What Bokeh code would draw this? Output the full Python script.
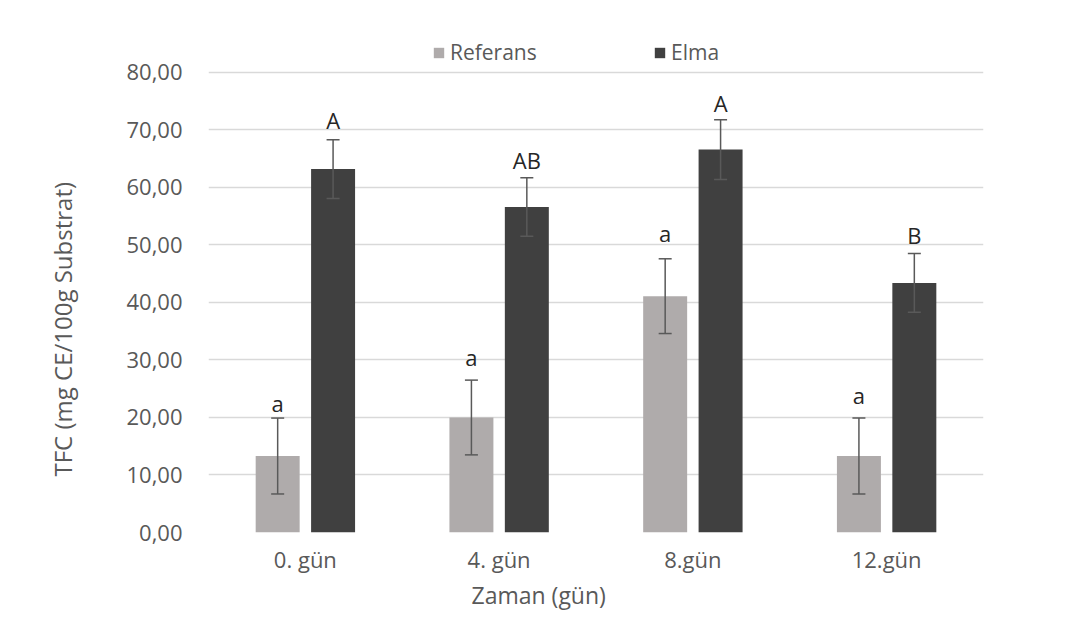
from bokeh.plotting import figure
from bokeh.models import (ColumnDataSource, FactorRange, Range1d, FixedTicker,
                          CustomJSTickFormatter, Whisker, TeeHead, LabelSet, Title,
                          Legend, LegendItem)
from bokeh.transform import dodge
from bokeh.core.properties import value
from bokeh.embed import file_html
from bokeh.resources import INLINE

# ---------------- data ----------------
days = ["0. gün", "4. gün", "8.gün", "12.gün"]
series_names = ["Referans", "Elma"]
ref_vals = [13.3, 20.0, 41.1, 13.3]
ref_err = [6.6, 6.5, 6.5, 6.6]
ref_letters = ["a", "a", "a", "a"]
elma_vals = [63.2, 56.6, 66.6, 43.4]
elma_err = [5.1, 5.1, 5.2, 5.1]
elma_letters = ["A", "AB", "A", "B"]
y_ticks = [0, 10, 20, 30, 40, 50, 60, 70, 80]
x_title = "Zaman (gün)"
y_title = "TFC (mg CE/100g Substrat)"

# ---------------- style ----------------
FONT = "Open Sans"
REF_COLOR = "#AFABAB"
ELMA_COLOR = "#404040"
ERR_COLOR = "#595959"
TEXT_GRAY = "#595959"
ref_gap_px = [6, 14, 17, 14]
elma_gap_px = [11, 9, 8, 10]
OFFSET = 0.143
BAR_W = 0.227
Y_VIEW_MAX = 87.3   # frame extends above the 80 gridline to hold the legend


def make_source(vals, errs, letters, gaps):
    return ColumnDataSource(dict(
        day=days,
        val=vals,
        upper=[v + e for v, e in zip(vals, errs)],
        lower=[v - e for v, e in zip(vals, errs)],
        letter=letters,
        gap=gaps,
    ))


src_ref = make_source(ref_vals, ref_err, ref_letters, ref_gap_px)
src_elma = make_source(elma_vals, elma_err, elma_letters, elma_gap_px)

p = figure(width=1050, height=610, x_range=FactorRange(factors=days),
           y_range=Range1d(0, Y_VIEW_MAX), output_backend="svg", toolbar_location=None,
           min_border_left=207, min_border_right=67, min_border_top=30,
           min_border_bottom=78)
p.outline_line_color = None
p.background_fill_color = "white"
p.border_fill_color = "white"

renderers = []
for src, off, color in [(src_ref, -OFFSET, REF_COLOR), (src_elma, OFFSET, ELMA_COLOR)]:
    r = p.vbar(x=dodge("day", off, range=p.x_range), top="val", width=BAR_W,
               source=src, fill_color=color, line_color=None)
    renderers.append(r)
    w = Whisker(base=dodge("day", off, range=p.x_range), upper="upper", lower="lower",
                source=src, line_color=ERR_COLOR, line_width=1.5, level="annotation",
                upper_head=TeeHead(size=13, line_color=ERR_COLOR, line_width=1.5),
                lower_head=TeeHead(size=13, line_color=ERR_COLOR, line_width=1.5))
    p.add_layout(w)
    ls = LabelSet(x=dodge("day", off, range=p.x_range), y="upper", text="letter",
                  y_offset="gap", source=src, text_align="center",
                  text_baseline="alphabetic", text_font=value(FONT),
                  text_font_size="22px", text_color="#262626")
    p.add_layout(ls)

# axes
p.yaxis.ticker = FixedTicker(ticks=y_ticks)
p.yaxis.formatter = CustomJSTickFormatter(code="return tick.toFixed(2).replace('.', ',');")
for ax in (p.xaxis, p.yaxis):
    ax.axis_line_color = None
    ax.major_tick_line_color = None
    ax.minor_tick_line_color = None
    ax.major_tick_out = 0
    ax.major_tick_in = 0
    ax.minor_tick_out = 0
    ax.major_label_text_font = FONT
    ax.major_label_text_font_size = "22px"
    ax.major_label_text_color = TEXT_GRAY
p.yaxis.major_label_standoff = 26
p.xaxis.major_label_standoff = 11

p.xgrid.grid_line_color = None
p.ygrid.grid_line_color = "#d9d9d9"
p.ygrid.grid_line_width = 1.5

# axis titles (placed like the Excel chart: centred on the chart, not the plot area)
p.add_layout(Title(text=x_title, align="left", offset=263, standoff=0,
                   vertical_align="bottom", text_font=FONT, text_font_size="23px",
                   text_font_style="normal", text_color=TEXT_GRAY), "below")
p.add_layout(Title(text=y_title, align="left", offset=56, standoff=88,
                   vertical_align="middle", text_font=FONT, text_font_size="24px",
                   text_font_style="normal", text_color=TEXT_GRAY), "left")

legend = Legend(items=[LegendItem(label=series_names[0], renderers=[renderers[0]]),
                       LegendItem(label=series_names[1], renderers=[renderers[1]])],
                location=(224, 466), orientation="horizontal", padding=0, margin=0,
                spacing=114, glyph_width=13, glyph_height=13, label_standoff=5,
                label_width=89, label_text_font=FONT, label_text_font_size="21px",
                label_text_color=TEXT_GRAY, border_line_color=None,
                background_fill_alpha=0)
p.add_layout(legend)

open("out.html", "w").write(file_html(p, INLINE))
